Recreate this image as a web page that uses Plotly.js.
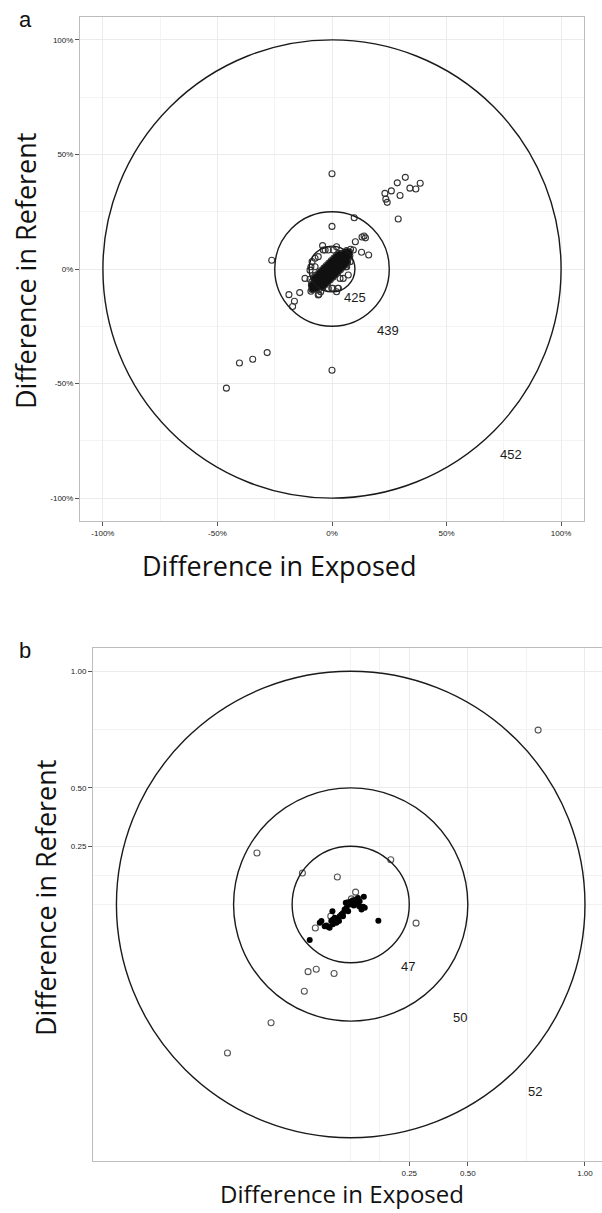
<!DOCTYPE html>
<html><head><meta charset="utf-8">
<script src="https://cdn.plot.ly/plotly-3.0.1.min.js"></script>
<style>html,body{margin:0;padding:0;background:#fff}#chart{width:602px;height:1213px}</style>
</head><body><div id="chart"></div>
<script>
// ---------- Panel a data ----------
const aOutX = [0.000,0.231,0.235,0.241,0.259,0.285,0.297,0.320,0.340,0.366,0.385,0.289,
  0.000,0.097,0.140,0.131,0.146,0.102,0.129,0.160,
  -0.263,-0.188,-0.164,-0.172,-0.141,-0.118,
  -0.461,-0.404,-0.346,-0.283,0.000];
const aOutY = [0.416,0.330,0.305,0.291,0.341,0.376,0.321,0.400,0.353,0.349,0.374,0.218,
  0.186,0.224,0.144,0.140,0.136,0.119,0.073,0.061,
  0.038,-0.112,-0.141,-0.164,-0.103,-0.041,
  -0.520,-0.410,-0.394,-0.365,-0.442];
const aNearX = [-0.041,-0.074,-0.096,-0.088,-0.060,-0.001,0.028,0.035,0.071,0.064,0.079,0.093,
  -0.074,-0.030,0.020,0.042,0.006,-0.092,-0.074,-0.081,-0.060,-0.016,0.003,0.025,0.049,0.061,
  0.071,-0.016,-0.038,-0.060,-0.087,-0.096,-0.049,0.020,-0.057,-0.092,0.081];
const aNearY = [0.102,0.010,-0.005,-0.056,-0.113,-0.084,-0.084,-0.041,-0.026,0.010,0.032,0.083,
  0.047,0.083,0.097,0.068,0.083,0.010,-0.027,-0.063,-0.092,-0.085,-0.084,-0.084,-0.041,0.010,
  0.046,0.083,0.083,0.054,0.032,-0.045,-0.099,-0.099,-0.110,-0.097,0.086];
const aBlobX = [-0.088,-0.077,-0.066,-0.055,-0.044,-0.033,-0.022,-0.011,0.000,0.011,0.022,0.033,0.044,0.055,0.066,0.077,
  -0.065,-0.054,-0.043,-0.032,-0.021,-0.010,0.001,0.012,0.023,0.034,0.045,0.056,0.067,0.078,
  -0.090,-0.079,-0.068,-0.057,-0.046,-0.035,-0.024,-0.013,-0.002,0.009,0.020,0.031,0.042,0.053,0.064,
  -0.040,-0.029,-0.018,-0.007,0.004,0.015,0.026,0.037,0.048,0.059,0.068,
  -0.080,-0.069,-0.058,-0.047,-0.036,-0.025,-0.014,-0.003,0.008,0.019,0.030,
  -0.078,-0.060,-0.038,-0.016,0.006,0.028,0.050,0.071,
  -0.088,-0.068,-0.047,-0.026,-0.004,0.018,0.040,0.061];
const aBlobY = [-0.090,-0.078,-0.069,-0.056,-0.047,-0.034,-0.025,-0.013,-0.002,0.008,0.020,0.030,0.042,0.052,0.064,0.074,
  -0.085,-0.074,-0.064,-0.052,-0.041,-0.030,-0.020,-0.009,0.002,0.013,0.024,0.035,0.046,0.058,
  -0.070,-0.058,-0.047,-0.036,-0.025,-0.014,-0.003,0.008,0.019,0.030,0.041,0.052,0.063,0.072,0.080,
  -0.080,-0.068,-0.058,-0.047,-0.036,-0.025,-0.014,-0.003,0.008,0.019,0.030,
  -0.040,-0.029,-0.018,-0.007,0.004,0.015,0.026,0.037,0.048,0.059,0.068,
  -0.088,-0.068,-0.047,-0.026,-0.004,0.018,0.040,0.061,
  -0.078,-0.060,-0.038,-0.016,0.006,0.028,0.050,0.071];
const aRings = [0.1, 0.25, 1.0];
const aRingLabels = ['425','439','452'];
const aLabelX = [0.099, 0.244, 0.782];
const aLabelY = [-0.124, -0.270, -0.811];
const aTickVals = [-1,-0.5,0,0.5,1];
const aTickText = ['-100%','-50%','0%','50%','100%'];

// ---------- Panel b data ----------
const bOpenX = [-0.400,-0.206,-0.057,0.171,0.279,-0.151,-0.182,-0.147,-0.071,-0.198,-0.340,-0.526,0.800,0.021,-0.085,0.003];
const bOpenY = [0.221,0.135,0.118,0.192,-0.080,-0.101,-0.288,-0.278,-0.296,-0.372,-0.507,-0.637,0.748,0.053,-0.050,0.024];
const bFillX = [-0.132,-0.125,-0.104,-0.097,-0.083,-0.076,-0.078,-0.068,-0.061,-0.050,-0.047,-0.040,-0.033,-0.026,-0.018,-0.021,-0.011,-0.004,
  0.003,0.010,0.013,0.024,0.031,0.038,0.046,0.053,0.060,0.056,0.036,0.024,-0.011,-0.033,-0.054,-0.076,-0.111,-0.090,-0.175,0.118];
const bFillY = [-0.078,-0.071,-0.090,-0.095,-0.071,-0.064,-0.029,-0.057,-0.078,-0.071,-0.050,-0.043,-0.036,-0.021,-0.014,0.007,0.010,0.000,
  0.014,0.018,-0.004,0.021,0.028,0.014,-0.021,-0.010,-0.014,0.033,-0.007,0.007,-0.029,-0.050,-0.064,-0.085,-0.093,-0.100,-0.152,-0.070];
const bRings = [0.25, 0.5, 1.0];
const bRingLabels = ['47','50','52'];
const bLabelX = [0.246, 0.466, 0.786];
const bLabelY = [-0.265, -0.485, -0.803];
const bTickVals = [0.25, 0.5, 1.0];
const bTickText = ['0.25','0.50','1.00'];

// ---------- build ----------
const W = 602, H = 1213;
const openMk = {symbol:'circle-open', size:6, color:'#333', line:{width:1.1}};
const traces = [
  {x:aBlobX.concat(aNearX, aOutX), y:aBlobY.concat(aNearY, aOutY), type:'scatter', mode:'markers',
   marker:openMk, xaxis:'x', yaxis:'y', hoverinfo:'x+y'},
  {x:aBlobX, y:aBlobY, type:'scatter', mode:'markers',
   marker:{symbol:'circle', size:5, color:'#111'}, xaxis:'x', yaxis:'y', hoverinfo:'skip'},
  {x:bOpenX, y:bOpenY, type:'scatter', mode:'markers',
   marker:{symbol:'circle-open', size:6, color:'#555', line:{width:1.1}}, xaxis:'x2', yaxis:'y2'},
  {x:bFillX, y:bFillY, type:'scatter', mode:'markers',
   marker:{symbol:'circle', size:6, color:'#000'}, xaxis:'x2', yaxis:'y2'}
];

const shapes = [];
aRings.forEach(r => shapes.push({type:'circle', xref:'x', yref:'y', x0:-r, x1:r, y0:-r, y1:r,
  line:{color:'#1a1a1a', width:1.4}, layer:'above'}));
bRings.forEach(r => shapes.push({type:'circle', xref:'x2', yref:'y2', x0:-r, x1:r, y0:-r, y1:r,
  line:{color:'#1a1a1a', width:1.4}, layer:'above'}));

const annotations = [];
const lblFont = {family:'Liberation Sans, Arial, sans-serif', size:13, color:'#1a1a1a'};
aRingLabels.forEach((t,i) => annotations.push({xref:'x', yref:'y', x:aLabelX[i], y:aLabelY[i], text:t, showarrow:false, font:lblFont}));
bRingLabels.forEach((t,i) => annotations.push({xref:'x2', yref:'y2', x:bLabelX[i], y:bLabelY[i], text:t, showarrow:false, font:lblFont}));
const titleFont = {family:'Open Sans, sans-serif', size:27, color:'#111'};
annotations.push(
  {xref:'paper', yref:'paper', x:279/W, y:1-566/H, text:'Difference in Exposed', showarrow:false, font:titleFont, xanchor:'center', yanchor:'middle'},
  {xref:'paper', yref:'paper', x:25/W, y:1-271/H, text:'Difference in Referent', showarrow:false, font:titleFont, textangle:-90, xanchor:'center', yanchor:'middle'},
  {xref:'paper', yref:'paper', x:342/W, y:1-1193/H, text:'Difference in Exposed', showarrow:false, font:Object.assign({}, titleFont, {size:24}), xanchor:'center', yanchor:'middle'},
  {xref:'paper', yref:'paper', x:45/W, y:1-898/H, text:'Difference in Referent', showarrow:false, font:titleFont, textangle:-90, xanchor:'center', yanchor:'middle'},
  {xref:'paper', yref:'paper', x:25/W, y:1-20/H, text:'a', showarrow:false, font:{family:'Liberation Sans, Arial, sans-serif', size:22, color:'#111'}, xanchor:'center', yanchor:'middle'},
  {xref:'paper', yref:'paper', x:25/W, y:1-650/H, text:'b', showarrow:false, font:{family:'Liberation Sans, Arial, sans-serif', size:22, color:'#111'}, xanchor:'center', yanchor:'middle'}
);

const tickFont = {family:'Liberation Sans, Arial, sans-serif', size:8, color:'#222'};
const axA = {range:[-1.1,1.1], tickmode:'array', tickvals:aTickVals, ticktext:aTickText,
  showgrid:true, gridcolor:'#ebebeb', gridwidth:1, zeroline:false,
  showline:true, mirror:true, linecolor:'#bdbdbd', linewidth:1,
  ticks:'outside', ticklen:4, tickcolor:'#555', tickwidth:1, tickfont:tickFont,
  minor:{tickmode:'array', tickvals:[-0.75,-0.25,0.25,0.75], showgrid:true, gridcolor:'#f4f4f4', ticks:''}};
const gridB = {tickmode:'array', tickvals:bTickVals, ticktext:bTickText,
  showgrid:true, gridcolor:'#ebebeb', gridwidth:1, zeroline:false,
  ticks:'outside', ticklen:4, tickcolor:'#555', tickwidth:1, tickfont:tickFont,
  minor:{tickmode:'array', tickvals:[0,0.125,0.75], showgrid:true, gridcolor:'#f2f2f2', ticks:''}};

const layout = {
  width:W, height:H, margin:{l:0,r:0,t:0,b:0}, showlegend:false,
  paper_bgcolor:'#fff', plot_bgcolor:'#fff',
  xaxis: Object.assign({}, axA, {domain:[80/W, 584/W], anchor:'y'}),
  yaxis: Object.assign({}, axA, {domain:[1-521/H, 1-17/H], anchor:'x'}),
  xaxis2: Object.assign({}, gridB, {range:[-1.1, (W-351)/234], domain:[93/W, 1], anchor:'y2',
    showline:true, mirror:true, linecolor:'#bdbdbd', linewidth:1}),
  yaxis2: Object.assign({}, gridB, {range:[-1.1,1.1], domain:[1-1161/H, 1-648/H], anchor:'x2',
    showline:true, mirror:false, linecolor:'#bdbdbd', linewidth:1}),
  shapes: shapes, annotations: annotations
};
Plotly.newPlot('chart', traces, layout, {staticPlot:true});
</script></body></html>
